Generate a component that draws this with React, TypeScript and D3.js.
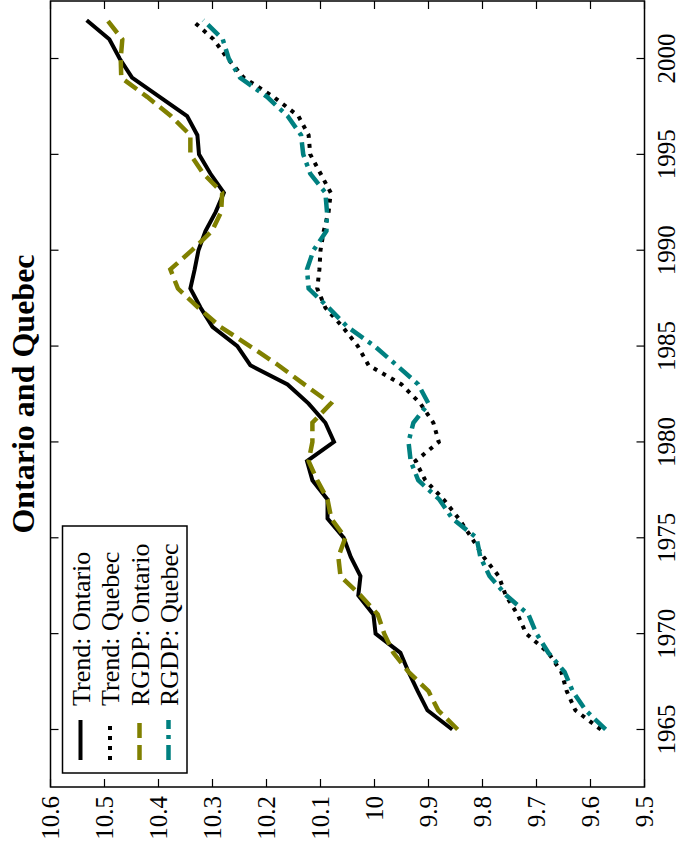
import React from "react";
import * as d3 from "d3";

// Log real GDP and its trend, Ontario and Quebec, 1965–2002
const years = [
  1965, 1966, 1967, 1968, 1969, 1970, 1971, 1972, 1973, 1974, 1975, 1976, 1977,
  1978, 1979, 1980, 1981, 1982, 1983, 1984, 1985, 1986, 1987, 1988, 1989, 1990,
  1991, 1992, 1993, 1994, 1995, 1996, 1997, 1998, 1999, 2000, 2001, 2002,
];

const trendOntario = [
  9.856, 9.902, 9.92, 9.937, 9.952, 9.998, 10.002, 10.03, 10.026, 10.044, 10.057,
  10.087, 10.087, 10.115, 10.125, 10.075, 10.091, 10.122, 10.161, 10.23, 10.254,
  10.3, 10.322, 10.341, 10.333, 10.326, 10.313, 10.294, 10.279, 10.304, 10.325,
  10.328, 10.347, 10.398, 10.449, 10.472, 10.491, 10.533,
];

const trendQuebec = [
  9.581, 9.628, 9.644, 9.654, 9.678, 9.719, 9.735, 9.757, 9.77, 9.798, 9.82,
  9.844, 9.872, 9.906, 9.924, 9.881, 9.891, 9.915, 9.95, 10.011, 10.031, 10.059,
  10.091, 10.106, 10.102, 10.1, 10.094, 10.085, 10.081, 10.1, 10.119, 10.122,
  10.141, 10.187, 10.242, 10.272, 10.298, 10.338,
];

const rgdpOntario = [
  9.846, 9.882, 9.9, 9.937, 9.965, 9.982, 9.994, 10.026, 10.063, 10.067, 10.054,
  10.08, 10.087, 10.106, 10.122, 10.115, 10.115, 10.081, 10.13, 10.178, 10.231,
  10.285, 10.326, 10.364, 10.378, 10.338, 10.301, 10.284, 10.282, 10.317, 10.341,
  10.341, 10.377, 10.421, 10.469, 10.47, 10.467, 10.495,
];

const rgdpQuebec = [
  9.572, 9.609, 9.633, 9.648, 9.678, 9.7, 9.715, 9.756, 9.787, 9.804, 9.811,
  9.856, 9.88, 9.919, 9.933, 9.937, 9.928, 9.9, 9.919, 9.959, 10.0, 10.05,
  10.085, 10.122, 10.125, 10.113, 10.089, 10.088, 10.091, 10.119, 10.132, 10.136,
  10.161, 10.199, 10.249, 10.27, 10.281, 10.317,
];

const valueTicks = [9.5, 9.6, 9.7, 9.8, 9.9, 10, 10.1, 10.2, 10.3, 10.4, 10.5, 10.6];
const yearTicks = [1965, 1970, 1975, 1980, 1985, 1990, 1995, 2000];

const seriesNames = ["Trend: Ontario", "Trend: Quebec", "RGDP: Ontario", "RGDP: Quebec"];

const W = 682;
const H = 853;
const FONT = "Liberation Serif, Times New Roman, serif";

type Style = { color: string; dash: string; width: number };
const styles: Style[] = [
  { color: "#000000", dash: "none", width: 4 },
  { color: "#000000", dash: "4 6", width: 4 },
  { color: "#808000", dash: "15 7", width: 4.5 },
  { color: "#008080", dash: "15 6 4 6", width: 4.5 },
];

export default function App() {
  const left = 50.5;
  const right = 644.5;
  const top = 1;
  const bottom = 787;

  // values run right-to-left, years bottom-to-top
  const vx = d3.scaleLinear().domain([9.5, 10.6]).range([right, left]);
  const yy = d3.scaleLinear().domain([1962, 2003]).range([bottom, top]);

  const all = [trendOntario, trendQuebec, rgdpOntario, rgdpQuebec];
  const line = d3
    .line<[number, number]>()
    .x((d) => vx(d[1]))
    .y((d) => yy(d[0]));

  const tickLen = 8;
  const fmt = (v: number) => String(+v.toFixed(1));

  const legendX = 62.5;
  const legendY = 526;
  const legendW = 124.5;
  const legendH = 247;
  const legendCols = [80.5, 110, 139.5, 168.5];

  const txt = { fontFamily: FONT, fill: "#000" } as const;

  return (
    <svg
      width={W}
      height={H}
      style={{ position: "absolute", left: 0, top: 0, background: "#fff" }}
    >
      <rect x={0} y={0} width={W} height={H} fill="#fff" />

      {/* series */}
      {all.map((vals, i) => (
        <path
          key={seriesNames[i]}
          d={line(years.map((yr, k) => [yr, vals[k]]) as [number, number][]) || ""}
          fill="none"
          stroke={styles[i].color}
          strokeWidth={styles[i].width}
          strokeDasharray={styles[i].dash}
          strokeLinejoin="miter"
        />
      ))}

      {/* value ticks on top and bottom edges */}
      {valueTicks.map((v) => (
        <g key={"v" + v}>
          <line x1={vx(v)} x2={vx(v)} y1={bottom} y2={bottom - tickLen} stroke="#000" strokeWidth={1.2} />
          <line x1={vx(v)} x2={vx(v)} y1={top} y2={top + tickLen} stroke="#000" strokeWidth={1.2} />
          <text
            transform={`translate(${vx(v)},${bottom + 9}) rotate(-90)`}
            textAnchor="end"
            dy="0.35em"
            fontSize={25}
            style={txt}
          >
            {fmt(v)}
          </text>
        </g>
      ))}

      {/* year ticks on left and right edges */}
      {yearTicks.map((yr) => (
        <g key={"y" + yr}>
          <line x1={right} x2={right - tickLen} y1={yy(yr)} y2={yy(yr)} stroke="#000" strokeWidth={1.2} />
          <line x1={left} x2={left + tickLen} y1={yy(yr)} y2={yy(yr)} stroke="#000" strokeWidth={1.2} />
          <text
            transform={`translate(${right + 30},${yy(yr)}) rotate(-90)`}
            textAnchor="middle"
            fontSize={25}
            style={txt}
          >
            {yr}
          </text>
        </g>
      ))}

      {/* frame */}
      <rect
        x={left}
        y={top}
        width={right - left}
        height={bottom - top}
        fill="none"
        stroke="#000"
        strokeWidth={1.5}
      />

      {/* title */}
      <text
        transform={`translate(34,${(top + bottom) / 2}) rotate(-90)`}
        textAnchor="middle"
        fontSize={32}
        fontWeight="bold"
        style={txt}
      >
        Ontario and Quebec
      </text>

      {/* legend */}
      <rect
        x={legendX}
        y={legendY}
        width={legendW}
        height={legendH}
        fill="#fff"
        stroke="#000"
        strokeWidth={1.5}
      />
      {seriesNames.map((name, i) => (
        <g key={"leg" + name}>
          <line
            x1={legendCols[i]}
            x2={legendCols[i]}
            y1={760}
            y2={720}
            stroke={styles[i].color}
            strokeWidth={styles[i].width}
            strokeDasharray={styles[i].dash}
          />
          <text
            transform={`translate(${legendCols[i]},706) rotate(-90)`}
            textAnchor="start"
            dy="0.35em"
            fontSize={26}
            style={txt}
          >
            {name}
          </text>
        </g>
      ))}
    </svg>
  );
}
